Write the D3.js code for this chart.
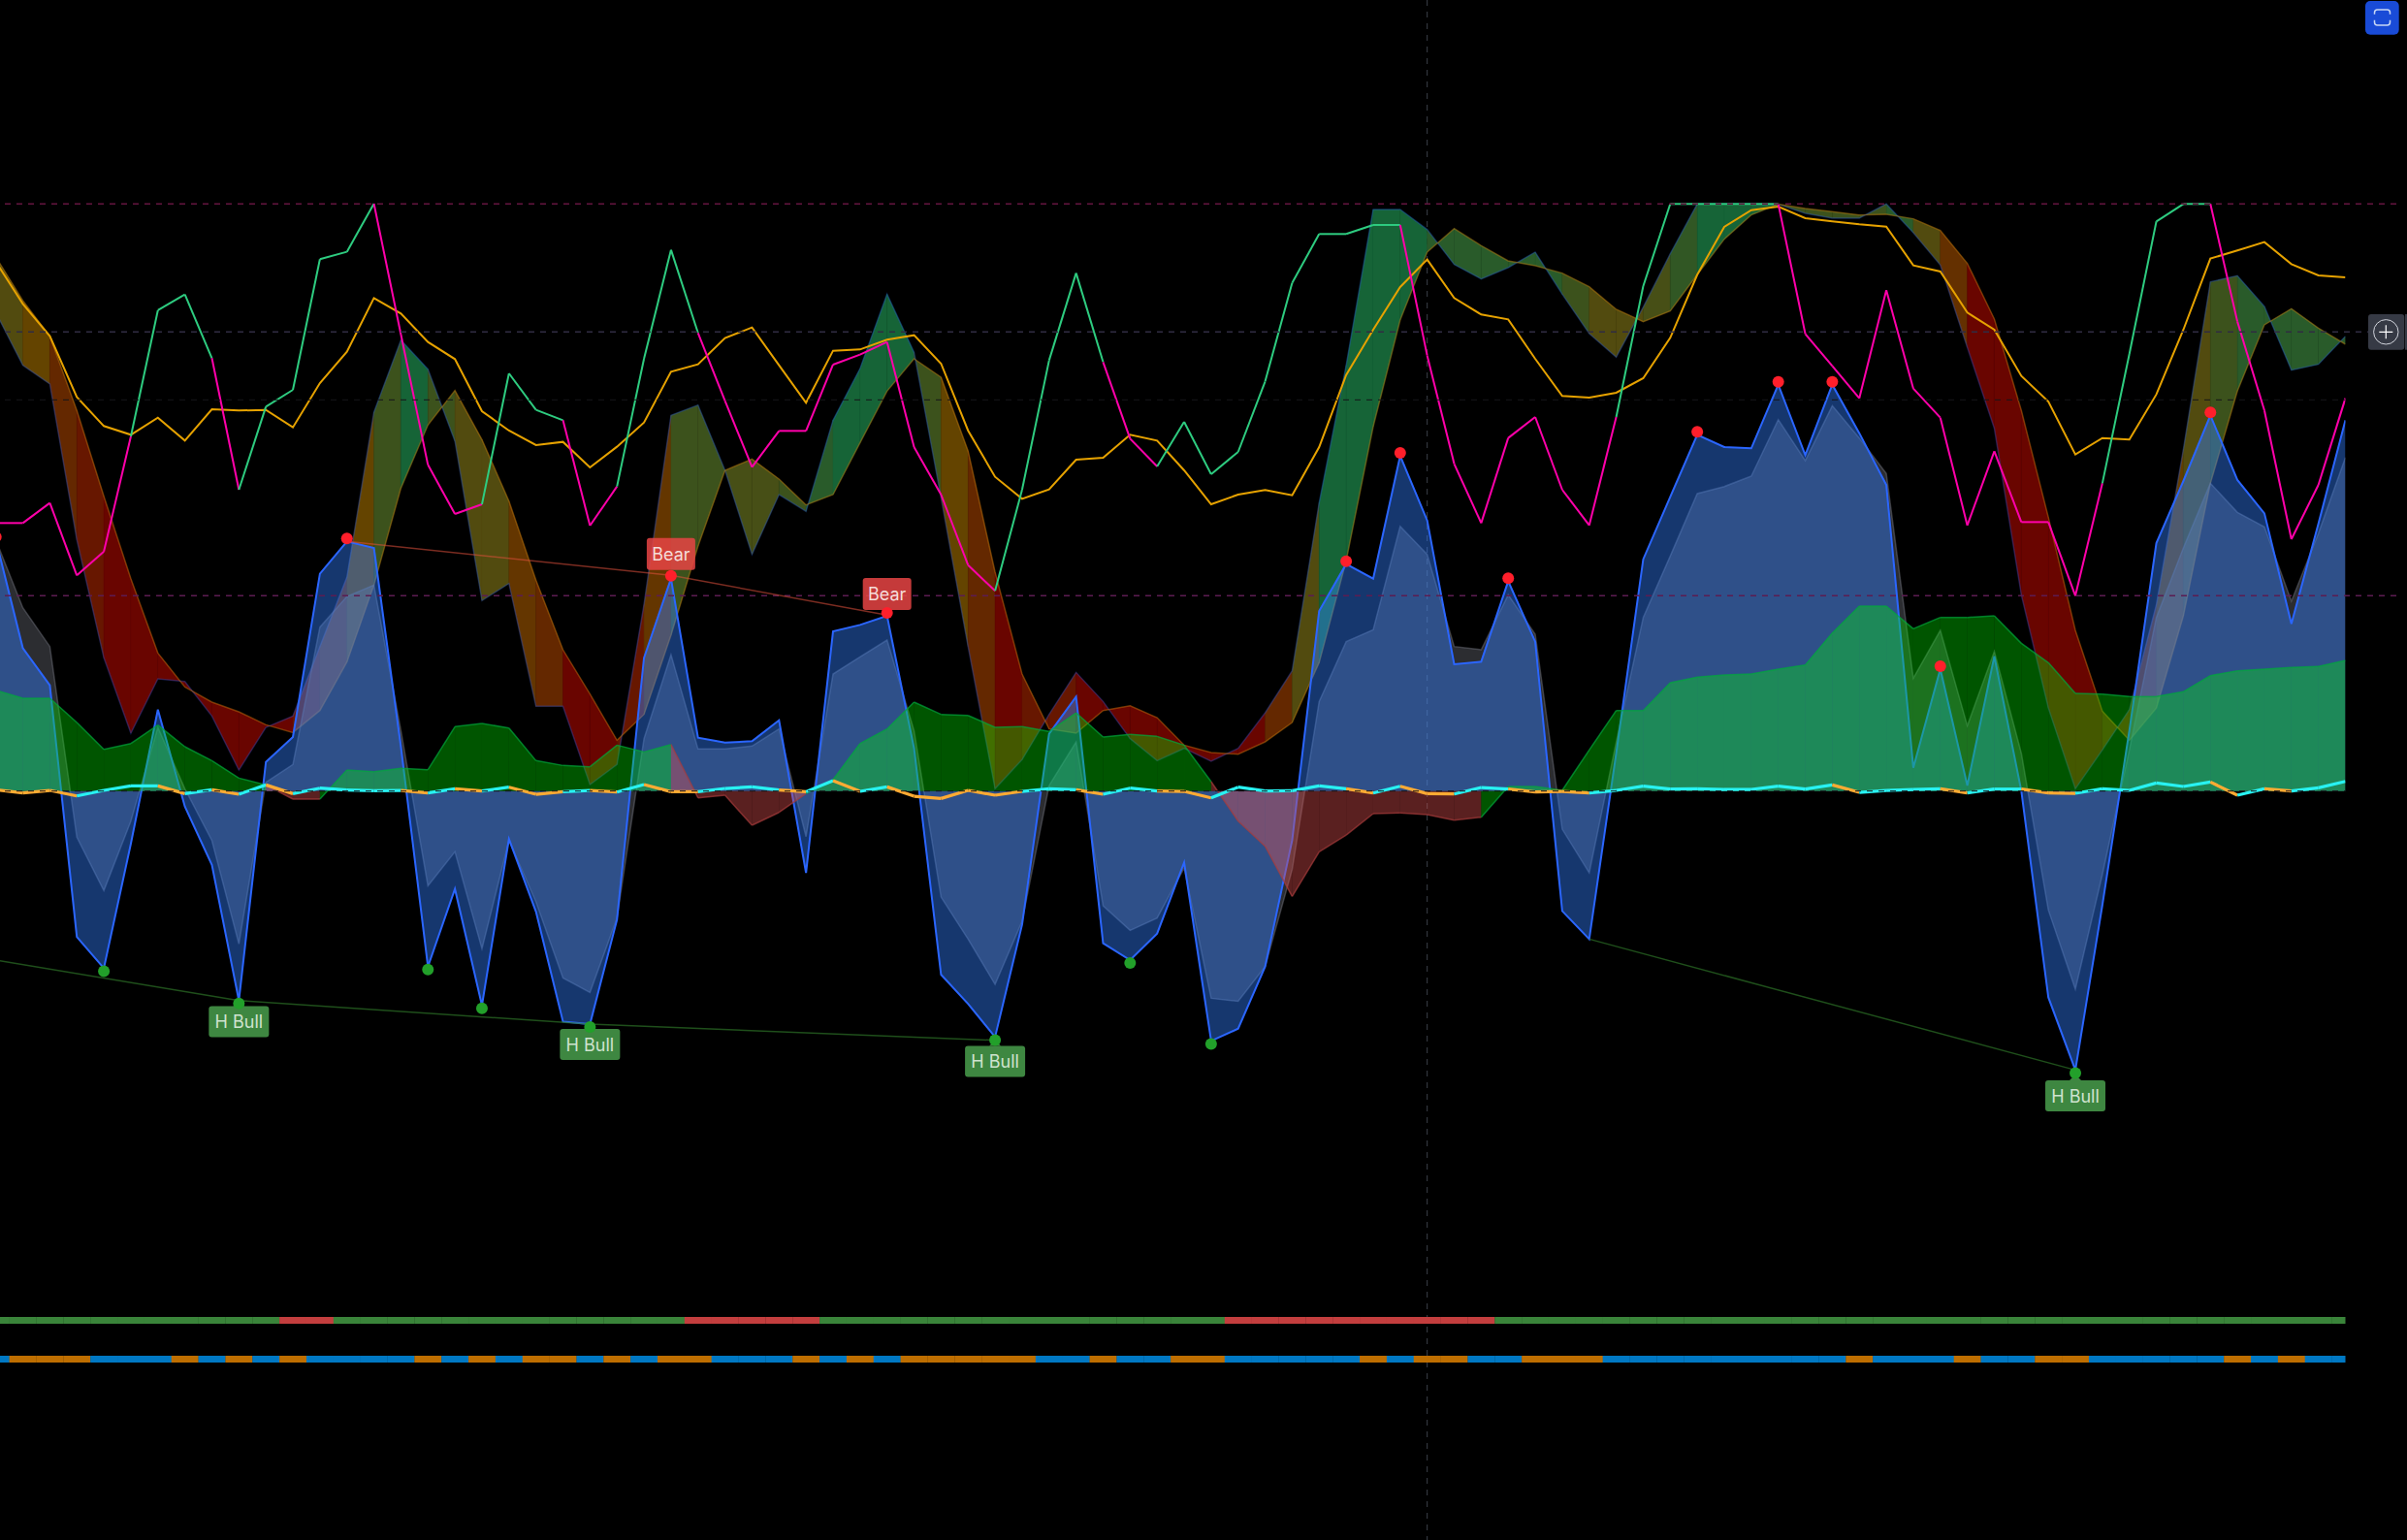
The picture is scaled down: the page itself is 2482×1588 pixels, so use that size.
<!DOCTYPE html>
<html>
<head>
<meta charset="utf-8">
<script src="https://cdn.jsdelivr.net/npm/d3@7"></script>
<style>
  html, body { margin: 0; padding: 0; background: #000; overflow: hidden; }
  svg { display: block; }
  text { font-family: Inter, "Noto Sans", sans-serif; }
</style>
</head>
<body>
<div id="chart"></div>
<script>
// Oscillator panel: ribbon, momentum areas, money flow, stoch lines, signal bands.
// All series are per bar (88 bars), in the oscillator's own units; 0 is the centre line.

const levels = [1816, 1420, 604];
const levelColors = ["#64143f", "#302c42", "#5c1c52"];
// these two are near-black, they only show up over the filled areas
const innerLevels = [1210, 0];
const crosshairBar = 53;

// ribbon edges
const ribbonA = [1480,1317,1259,777,412,179,347,339,232,65,197,232,447,662,1172,1395,1305,1082,589,642,262,262,20,82,577,1162,1194,992,732,917,865,1147,1307,1537,1357,907,447,7,97,237,367,277,162,94,132,92,132,242,372,892,1317,1799,1799,1737,1629,1584,1619,1667,1537,1415,1342,1497,1662,1816,1816,1816,1815,1787,1772,1772,1816,1727,1627,1372,1122,607,257,7,127,252,577,1057,1575,1594,1499,1302,1320,1407];
const ribbonB = [1652,1517,1407,1177,912,657,427,322,275,245,205,181,249,399,637,937,1132,1239,1087,897,652,437,300,157,237,482,757,992,1027,965,885,917,1077,1237,1337,1280,1052,677,362,192,179,249,264,227,142,119,114,152,212,397,712,1127,1457,1667,1740,1687,1640,1625,1602,1560,1490,1452,1485,1597,1707,1782,1815,1802,1792,1782,1784,1770,1734,1632,1460,1177,847,497,247,157,257,542,952,1237,1442,1492,1432,1382];
// ribbon trend per bar-to-bar step, 0 = bearish ... 5 = bullish
const ribbonTrend = [3,2,1,0.5,0,0,0,0,0,0,0,0.5,1,2,4,5,4,3,3,1.5,1,0,0,0.5,1.5,4,4,3.5,3.5,4,4.5,5,5,5,4,2,1,0,0.5,0.5,0,0,0,0,0,0,0,1,3,5,5,5,5,4.5,4.5,4.5,4.5,4.5,4,3,3,3.5,4.3,5,5,5,4,4,4,4,4.5,3,1.3,0,0,0,0,0,0.5,1,1.8,3,4,4.5,4.5,4.5,4.5];

// momentum areas
const waveBlue = [777,442,327,-451,-548,-163,252,-48,-228,-648,90,167,672,772,752,137,-543,-303,-663,-148,-373,-713,-721,-398,412,657,165,150,154,219,-253,494,514,542,132,-568,-658,-761,-413,177,292,-471,-523,-441,-221,-773,-735,-543,-153,557,702,657,1037,837,392,400,649,462,-371,-458,117,717,910,1102,1064,1060,1257,1039,1257,1107,947,72,377,17,417,0,-638,-863,-353,187,767,959,1162,962,859,517,827,1147];
const waveGrey = [777,567,447,-143,-308,-93,197,7,-153,-473,27,82,507,602,637,187,-293,-188,-488,-153,-343,-578,-623,-393,162,422,130,130,139,192,-141,362,415,467,187,-328,-458,-598,-403,17,152,-355,-431,-393,-238,-641,-650,-543,-243,277,462,499,819,732,447,437,607,485,-118,-253,152,537,727,920,942,974,1149,1022,1192,1092,982,349,497,202,432,117,-368,-613,-258,127,537,752,952,862,817,587,797,1032];

// money flow
const moneyFlow = [312,287,287,212,129,147,204,137,94,40,19,-25,-25,65,60,70,66,199,209,195,94,79,75,142,121,144,-21,-13,-106,-66,-8,35,147,192,275,237,234,197,199,184,242,167,175,169,142,29,-93,-171,-326,-188,-136,-70,-68,-73,-90,-81,14,14,2,127,249,249,335,352,359,362,377,390,489,572,572,502,537,537,542,457,397,302,300,292,292,307,357,372,377,382,385,404];

// stoch lines
const stochK = [829,829,891,667,741,1097,1487,1536,1339,932,1189,1241,1645,1668,1817,1412,1009,857,887,1292,1179,1147,821,942,1337,1674,1417,1207,1002,1114,1114,1319,1350,1389,1064,917,699,619,932,1332,1602,1327,1090,1004,1142,980,1049,1267,1572,1723,1723,1751,1751,1347,1012,829,1092,1157,932,822,1157,1562,1816,1816,1816,1816,1816,1414,1315,1215,1549,1245,1155,822,1051,832,832,604,952,1352,1762,1816,1816,1452,1177,779,947,1215];
// 1 = green step, 0 = magenta step
const stochKUp = [0,0,0,0,0,1,1,1,0,1,1,1,1,1,0,0,0,0,1,1,1,0,0,1,1,1,0,0,0,0,0,0,0,0,0,0,0,1,1,1,1,0,0,1,1,1,1,1,1,1,1,1,0,0,0,0,0,0,0,0,1,1,1,1,1,1,0,0,0,0,0,0,0,0,0,0,0,0,1,1,1,1,0,0,0,0,0];
const stochD = [1637,1507,1407,1219,1129,1102,1155,1084,1181,1177,1179,1125,1262,1359,1525,1477,1389,1336,1175,1115,1070,1080,1001,1065,1140,1297,1320,1401,1434,1317,1201,1362,1366,1396,1410,1322,1115,972,904,933,1025,1031,1102,1084,992,887,917,931,915,1064,1287,1427,1559,1644,1525,1474,1459,1337,1222,1217,1232,1277,1402,1597,1745,1797,1808,1772,1762,1753,1746,1626,1607,1480,1427,1284,1205,1041,1092,1087,1227,1427,1647,1672,1698,1630,1595,1589];

// centre line
const vwap = [4,-6,2,-15,2,16,16,-8,4,-10,19,-8,9,3,1,2,-6,7,0,12,-10,-2,2,-3,20,-2,-2,8,13,3,-2,32,-1,13,-16,-23,2,-13,-1,7,4,-10,9,0,-1,-21,12,0,1,16,7,-6,15,-8,-9,11,6,-3,-1,-6,2,15,6,7,5,5,15,6,19,-4,2,5,7,-6,6,6,-6,-7,7,2,25,14,28,-13,7,0,10,30];
// 1 = cyan step, 0 = orange step
const vwapUp = [0,0,0,1,1,1,0,1,0,1,0,1,1,1,1,0,1,0,1,0,0,1,0,1,0,0,1,1,1,0,1,0,1,0,0,0,0,0,1,1,0,1,1,0,0,1,1,1,1,1,0,1,0,0,1,1,0,0,0,1,1,1,1,1,1,1,1,1,0,1,1,1,0,1,1,0,0,1,1,1,1,1,0,1,0,1,1];

// signals
const bearDots = [0,13,25,33,50,52,56,63,66,68,72,82];
const bullDots = [4,9,16,18,22,37,42,45,77];
const bearDivBars = [13,25,33];
const bearDivValues = [772,667,544];
const bullDivBars = [0,9,22,37];
const bullDivValues = [-523,-648,-721,-771];
const bullDiv2Bars = [59,77];
const bullDiv2Values = [-458,-863];
const bearLabelBars = [25,33];
const bearLabelAt = [684,560];
const bullLabelBars = [9,22,37,77];
const bullLabelAt = [-665,-736,-788,-895];

// bottom bands, run lengths in bars
const trendRuns = [11,2,13,5,15,10,32];
const sessionRuns = [1,3,3,1,1,1,1,1,4,1,1,1,1,2,1,1,1,2,3,1,1,1,1,5,2,1,2,2,5,1,1,2,2,3,9,1,3,1,2,2,5,1,1,1,2];

const WIDTH = 2482;
const HEIGHT = 1588;
const lastBar = ribbonA.length - 1;

const x = d3.scaleLinear().domain([0, lastBar]).range([-4.3, 2418.5]);
const y = d3.scaleLinear().domain([0, 1816]).range([815.7, 210.3]);
const barStep = x(1) - x(0);

const trendColor = d3.scaleLinear()
  .domain([0, 1, 2, 3, 4, 5])
  .range(["#690500", "#642800", "#644400", "#524b0f", "#3c521c", "#166437"]);

const svg = d3.select("#chart").append("svg")
  .attr("width", WIDTH)
  .attr("height", HEIGHT)
  .attr("viewBox", `0 0 ${WIDTH} ${HEIGHT}`);

svg.append("defs").append("clipPath").attr("id", "plot")
  .append("rect").attr("x", 0).attr("y", 0).attr("width", x(lastBar)).attr("height", HEIGHT);

// crosshair
svg.append("line")
  .attr("x1", x(crosshairBar)).attr("x2", x(crosshairBar))
  .attr("y1", 0).attr("y2", HEIGHT)
  .attr("stroke", "#3c404a")
  .attr("stroke-width", 1)
  .attr("stroke-dasharray", "6 6");

// level lines sit over the areas, but under the labels
const plot = svg.append("g").attr("clip-path", "url(#plot)");
const bars = d3.range(ribbonA.length);
const steps = d3.range(lastBar);

// ribbon, one polygon per step so the colour can change bar to bar
const ribbonArea = d3.area()
  .x(d => x(d))
  .y0(d => y(ribbonA[d]))
  .y1(d => y(ribbonB[d]));

plot.append("g").selectAll("path")
  .data(steps)
  .join("path")
  .attr("d", k => ribbonArea([k, k + 1]))
  .attr("fill", k => trendColor(ribbonTrend[k]))
  .attr("stroke", k => trendColor(ribbonTrend[k]))
  .attr("stroke-width", 0.4);

const seriesLine = values => d3.line().x(d => x(d)).y(d => y(values[d]))(bars);

plot.append("path")
  .attr("d", seriesLine(ribbonA))
  .attr("fill", "none")
  .attr("stroke", "#2962ff")
  .attr("stroke-opacity", 0.3)
  .attr("stroke-width", 1.5);

plot.append("path")
  .attr("d", seriesLine(ribbonB))
  .attr("fill", "none")
  .attr("stroke", "#d98a10")
  .attr("stroke-opacity", 0.4)
  .attr("stroke-width", 1.5);

// momentum areas
const zeroArea = values => d3.area().x(d => x(d)).y0(y(0)).y1(d => y(values[d]))(bars);

plot.append("path")
  .attr("d", zeroArea(waveGrey))
  .attr("fill", "rgb(120,123,134)")
  .attr("fill-opacity", 0.37);

plot.append("path")
  .attr("d", seriesLine(waveGrey))
  .attr("fill", "none")
  .attr("stroke", "rgb(120,123,134)")
  .attr("stroke-opacity", 0.45)
  .attr("stroke-width", 1.5);

plot.append("path")
  .attr("d", zeroArea(waveBlue))
  .attr("fill", "rgb(51,128,255)")
  .attr("fill-opacity", 0.43);

plot.append("path")
  .attr("d", seriesLine(waveBlue))
  .attr("fill", "none")
  .attr("stroke", "#2b66ff")
  .attr("stroke-width", 2);

// money flow, a step takes its colour from the bar it ends on
const flowArea = d3.area()
  .x(d => x(d))
  .y0(y(0))
  .y1(d => y(moneyFlow[d]));

const flowLine = d3.line()
  .x(d => x(d))
  .y(d => y(moneyFlow[d]));

const flowG = plot.append("g");
steps.forEach(k => {
  const up = moneyFlow[k + 1] >= 0;
  flowG.append("path")
    .attr("d", flowArea([k, k + 1]))
    .attr("fill", up ? "rgb(0,243,0)" : "rgb(225,80,80)")
    .attr("fill-opacity", up ? 0.35 : 0.4);
  flowG.append("path")
    .attr("d", flowLine([k, k + 1]))
    .attr("fill", "none")
    .attr("stroke", up ? "#00a83c" : "#a83c3c")
    .attr("stroke-opacity", 0.7)
    .attr("stroke-width", 1.5);
});

// stoch lines
plot.append("path")
  .attr("d", seriesLine(stochD))
  .attr("fill", "none")
  .attr("stroke", "#e6a200")
  .attr("stroke-width", 2);

plot.append("g").selectAll("path")
  .data(steps)
  .join("path")
  .attr("d", k => d3.line().x(d => x(d)).y(d => y(stochK[d]))([k, k + 1]))
  .attr("fill", "none")
  .attr("stroke", k => stochKUp[k] ? "#2ecc80" : "#ff00aa")
  .attr("stroke-width", 2);

// centre line
plot.append("g").selectAll("path")
  .data(steps)
  .join("path")
  .attr("d", k => d3.line().x(d => x(d)).y(d => y(vwap[d]))([k, k + 1]))
  .attr("fill", "none")
  .attr("stroke", k => vwapUp[k] ? "#28f2f2" : "#ffab33")
  .attr("stroke-width", 3.2);

plot.append("g").selectAll("line")
  .data(innerLevels)
  .join("line")
  .attr("x1", 5).attr("x2", x(lastBar))
  .attr("y1", d => y(d)).attr("y2", d => y(d))
  .attr("stroke", "#16161a")
  .attr("stroke-width", 1)
  .attr("stroke-dasharray", "6 6");

svg.append("g").selectAll("line")
  .data(levels)
  .join("line")
  .attr("x1", 5).attr("x2", 2474)
  .attr("y1", d => y(d)).attr("y2", d => y(d))
  .attr("stroke", (d, i) => levelColors[i])
  .attr("stroke-width", 1.5)
  .attr("stroke-dasharray", "6 6");

// everything from here on goes over the level lines
const marks = svg.append("g").attr("clip-path", "url(#plot)");

// divergence lines
const divLine = d3.line().x(d => x(d[0])).y(d => y(d[1]));

marks.append("path")
  .attr("d", divLine(d3.zip(bearDivBars, bearDivValues)))
  .attr("fill", "none")
  .attr("stroke", "#e0503c")
  .attr("stroke-opacity", 0.55)
  .attr("stroke-width", 1.5);

[d3.zip(bullDivBars, bullDivValues), d3.zip(bullDiv2Bars, bullDiv2Values)].forEach(pts => {
  marks.append("path")
    .attr("d", divLine(pts))
    .attr("fill", "none")
    .attr("stroke", "#2f7a2a")
    .attr("stroke-opacity", 0.65)
    .attr("stroke-width", 1.5);
});

// labels
const labelW = 62;
const labelH = 32;
const bearW = 50;
const bearH = 33;

bearLabelBars.forEach((k, i) => {
  const cx = x(k);
  const bottom = y(bearLabelAt[i]);
  const g = marks.append("g");
  g.append("rect")
    .attr("x", cx - bearW / 2).attr("y", bottom - bearH)
    .attr("width", bearW).attr("height", bearH)
    .attr("rx", 3)
    .attr("fill", "rgb(232,68,68)")
    .attr("fill-opacity", 0.85);
  g.append("text")
    .attr("x", cx).attr("y", bottom - bearH / 2 + 6.5)
    .attr("text-anchor", "middle")
    .attr("font-size", 18)
    .attr("fill", "#f5dcd9")
    .text("Bear");
});

bullLabelBars.forEach((k, i) => {
  const cx = x(k);
  const top = y(bullLabelAt[i]);
  const g = marks.append("g");
  g.append("path")
    .attr("d", `M${cx - 6},${top} L${cx},${top - 6} L${cx + 6},${top} Z`)
    .attr("fill", "rgb(62,135,65)");
  g.append("rect")
    .attr("x", cx - labelW / 2).attr("y", top)
    .attr("width", labelW).attr("height", labelH)
    .attr("rx", 3)
    .attr("fill", "rgb(62,135,65)");
  g.append("text")
    .attr("x", cx).attr("y", top + labelH / 2 + 6.5)
    .attr("text-anchor", "middle")
    .attr("font-size", 18)
    .attr("fill", "#cfe3cf")
    .text("H Bull");
});

// pivot dots
marks.append("g").selectAll("circle")
  .data(bearDots)
  .join("circle")
  .attr("cx", k => x(k)).attr("cy", k => y(waveBlue[k]) - 3)
  .attr("r", 6)
  .attr("fill", "#ff1f2b");

marks.append("g").selectAll("circle")
  .data(bullDots)
  .join("circle")
  .attr("cx", k => x(k)).attr("cy", k => y(waveBlue[k]) + 3)
  .attr("r", 6)
  .attr("fill", "#22a02a");

// bottom bands
function expandRuns(runs) {
  const out = [];
  let k = 0;
  runs.forEach((len, i) => {
    d3.range(len).forEach(() => { out.push({ k: k, alt: i % 2 === 1 }); k += 1; });
  });
  return out;
}

const bandHeight = 7;

marks.append("g").selectAll("rect")
  .data(expandRuns(trendRuns))
  .join("rect")
  .attr("x", d => x(d.k) - barStep / 2)
  .attr("y", 1358)
  .attr("width", barStep + 0.3)
  .attr("height", bandHeight)
  .attr("fill", d => d.alt ? "#c33e3e" : "#3a843a");

marks.append("g").selectAll("rect")
  .data(expandRuns(sessionRuns))
  .join("rect")
  .attr("x", d => x(d.k) - barStep / 2)
  .attr("y", 1398)
  .attr("width", barStep + 0.3)
  .attr("height", bandHeight)
  .attr("fill", d => d.alt ? "#be6e00" : "#0078c3");

// chart buttons
const ui = svg.append("g");

ui.append("rect")
  .attr("x", 2439).attr("y", 1)
  .attr("width", 34.7).attr("height", 34.7)
  .attr("rx", 5)
  .attr("fill", "#194bd7");

ui.append("path")
  .attr("d", "M2448.5,14.7 V13 a3,3 0 0 1 3,-3 h10 a3,3 0 0 1 3,3 V14.7 M2448.5,20.7 V23 a3,3 0 0 0 3,3 h10 a3,3 0 0 0 3,-3 V20.7")
  .attr("fill", "none")
  .attr("stroke", "#c8d7f5")
  .attr("stroke-width", 1.5);

ui.append("rect")
  .attr("x", 2442).attr("y", 324)
  .attr("width", 37.3).attr("height", 36.7)
  .attr("rx", 3)
  .attr("fill", "#363a45");

ui.append("rect")
  .attr("x", 2480).attr("y", 324)
  .attr("width", 2).attr("height", 36.7)
  .attr("fill", "#363a45");

ui.append("circle")
  .attr("cx", 2460.3).attr("cy", 342.3)
  .attr("r", 12.7)
  .attr("fill", "none")
  .attr("stroke", "#d1d4dc")
  .attr("stroke-width", 1);

ui.append("path")
  .attr("d", "M2453.3,342.3 H2467.3 M2460.3,335.3 V349.3")
  .attr("stroke", "#ffffff")
  .attr("stroke-width", 1.2);
</script>
</body>
</html>
